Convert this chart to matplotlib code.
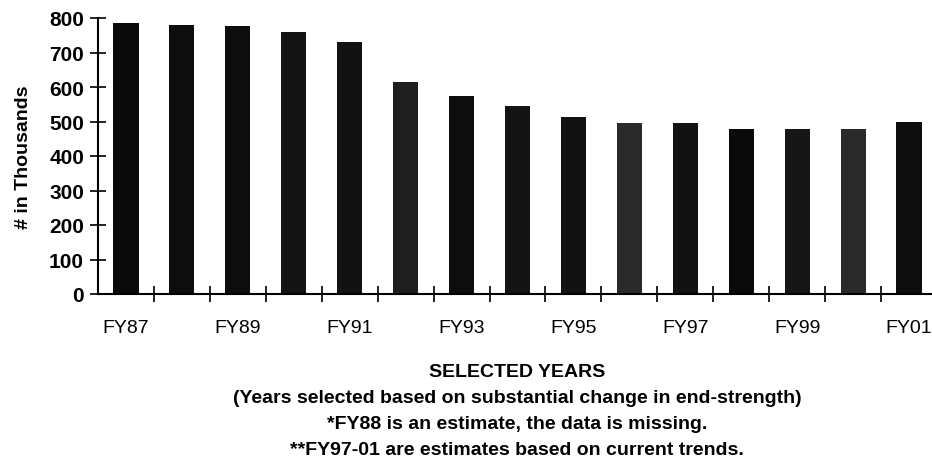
import matplotlib
matplotlib.use("Agg")
import matplotlib.pyplot as plt
import numpy as np

categories = ["FY87", "FY88", "FY89", "FY90", "FY91", "FY92", "FY93", "FY94",
              "FY95", "FY96", "FY97", "FY98", "FY99", "FY00", "FY01"]
values = [785, 780, 778, 758, 730, 615, 575, 544, 514, 497, 497, 478, 478, 478, 500]
shown_labels = ["FY87", "FY89", "FY91", "FY93", "FY95", "FY97", "FY99", "FY01"]
y_ticks = [0, 100, 200, 300, 400, 500, 600, 700, 800]

bar_colors = ["#0a0a0a", "#0d0d0d", "#0d0d0d", "#141414", "#121212", "#1e1e1e",
              "#0d0d0d", "#141414", "#121212", "#2a2a2a", "#121212", "#0a0a0a",
              "#161616", "#2a2a2a", "#0d0d0d"]

plt.rcParams['font.family'] = ['Liberation Sans', 'DejaVu Sans']

fig = plt.figure(figsize=(9.32, 4.60), dpi=100)
W, H = 932, 460
left, right = 98, 937
bottom, top = 295, 19
ax = fig.add_axes([left / W, 1 - bottom / H, (right - left) / W, (bottom - top) / H])

x = np.arange(len(categories))
ax.bar(x, values, width=0.45, color=bar_colors, edgecolor="none")

ax.set_xlim(-0.5, len(categories) - 0.5)
ax.set_ylim(0, 800)

ax.spines['top'].set_visible(False)
ax.spines['right'].set_visible(False)
ax.spines['left'].set_linewidth(1.5)
ax.spines['bottom'].set_linewidth(1.5)

ax.set_yticks(y_ticks)
ax.set_yticklabels([str(v) for v in y_ticks], fontsize=15, fontweight='bold')
ax.tick_params(axis='y', direction='inout', length=12, width=1.2, pad=4)

label_pos = [categories.index(c) for c in shown_labels]
ax.set_xticks(label_pos)
ax.set_xticklabels(shown_labels, fontsize=14)
ax.tick_params(axis='x', which='major', length=0, pad=18)
ax.set_xticks(np.arange(0.5, len(categories) - 0.5, 1.0), minor=True)
ax.tick_params(axis='x', which='minor', direction='inout', length=12, width=1.2)

ax.set_ylabel("# in Thousands", fontsize=14, fontweight='bold', labelpad=12)

caption = ("SELECTED YEARS\n"
           "(Years selected based on substantial change in end-strength)\n"
           "*FY88 is an estimate, the data is missing.\n"
           "**FY97-01 are estimates based on current trends.")
fig.text(517 / W, 1 - 364 / H, caption, ha='center', va='top', fontsize=14,
         fontweight='bold', linespacing=1.68)

fig.savefig("out.png", dpi=100)
